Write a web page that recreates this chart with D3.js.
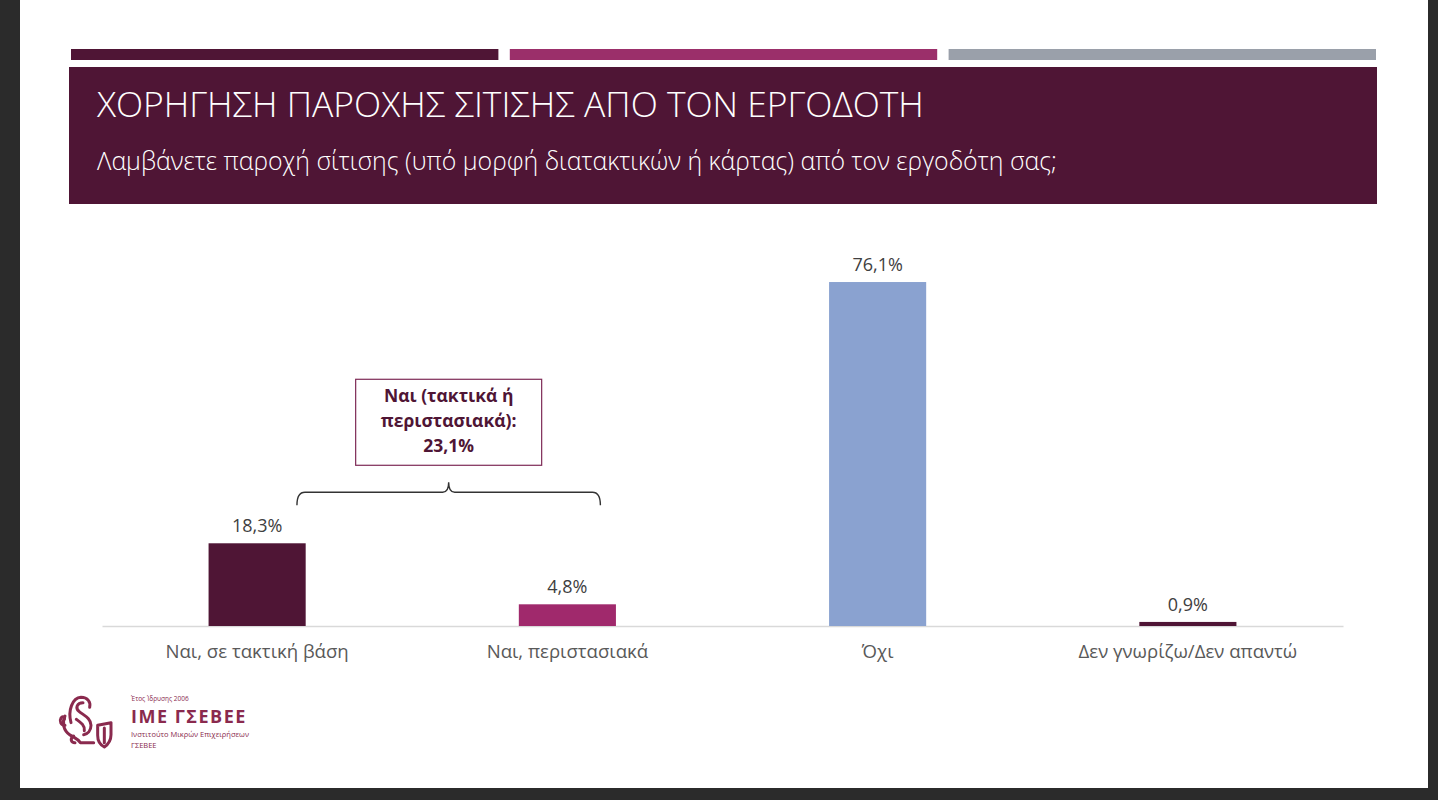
<!DOCTYPE html>
<html>
<head>
<meta charset="utf-8">
<script src="https://cdn.jsdelivr.net/npm/d3@7/dist/d3.min.js"></script>
<style>
  html, body { margin: 0; padding: 0; background: #2b2b2b; }
  svg { display: block; }
  text { font-family: "Open Sans", "Noto Sans", "DejaVu Sans", sans-serif; }
</style>
</head>
<body>
<svg id="chart" width="1438" height="800"></svg>
<script>
// ---------- data ----------
const categories = ["Ναι, σε τακτική βάση", "Ναι, περιστασιακά", "Όχι", "Δεν γνωρίζω/Δεν απαντώ"];
const values = [18.3, 4.8, 76.1, 0.9];
const barColors = ["#4f1535", "#a0296c", "#8aa2d0", "#4f1535"];
const groupIndices = [0, 1];
const groupTotal = 23.1;
const groupLabelLines = ["Ναι (τακτικά ή", "περιστασιακά):"];
const title = "ΧΟΡΗΓΗΣΗ ΠΑΡΟΧΗΣ ΣΙΤΙΣΗΣ ΑΠΟ ΤΟΝ ΕΡΓΟΔΟΤΗ";
const subtitle = "Λαμβάνετε παροχή σίτισης (υπό μορφή διατακτικών ή κάρτας) από τον εργοδότη σας;";
const accentColors = ["#4f1535", "#9b2f6a", "#9aa0aa"];

// ---------- setup ----------
const svg = d3.select("#chart");
const W = 1438, H = 800;
const loc = d3.formatLocale({ decimal: ",", thousands: ".", grouping: [3], currency: ["", "€"] });
const fmt = v => loc.format(".1f")(v) + "%";

// slide frame
svg.append("rect").attr("x", 0).attr("y", 0).attr("width", W).attr("height", H).attr("fill", "#2b2b2b");
svg.append("rect").attr("x", 20).attr("y", 0).attr("width", 1408).attr("height", 788).attr("fill", "#ffffff");

// accent bars
const accX = d3.scaleBand().domain(d3.range(accentColors.length)).range([71, 1376]).paddingInner(0.026);
svg.selectAll("rect.acc").data(accentColors).join("rect")
  .attr("class", "acc")
  .attr("x", (d, i) => accX(i)).attr("y", 49)
  .attr("width", accX.bandwidth()).attr("height", 11)
  .attr("fill", d => d);

// header box
svg.append("rect").attr("x", 69).attr("y", 67).attr("width", 1308).attr("height", 137).attr("fill", "#4f1535");

function fitText(sel, target) {
  const n = sel.node();
  const fs = parseFloat(sel.attr("font-size"));
  const w = n.getComputedTextLength();
  if (w > 0) sel.attr("font-size", (fs * target / w).toFixed(2));
}

const t1 = svg.append("text").attr("x", 97).attr("y", 117)
  .attr("fill", "#ffffff").attr("font-size", 32).attr("font-weight", 300)
  .text(title);
fitText(t1, 827);

const t2 = svg.append("text").attr("x", 97).attr("y", 170)
  .attr("fill", "#ffffff").attr("font-size", 22).attr("font-weight", 300)
  .text(subtitle);
fitText(t2, 960);

// ---------- chart ----------
const x = d3.scaleBand().domain(categories).range([102, 1343]).paddingInner(0.687).paddingOuter(0.3435);
const y = d3.scaleLinear().domain([0, 80]).range([626, 264.4]);

const axis = d3.axisBottom(x).tickSize(0).tickSizeOuter(0).tickPadding(0);
const ag = svg.append("g").attr("transform", `translate(0,${y(0)})`).call(axis);
ag.select(".domain").attr("stroke", "#d9d9d9").attr("stroke-width", 1.5);
ag.selectAll(".tick text")
  .attr("y", 32).attr("dy", 0)
  .attr("fill", "#595959").attr("font-size", 18.6)
  .attr("font-family", "'Open Sans', 'Noto Sans', sans-serif");

svg.append("g").selectAll("rect").data(values).join("rect")
  .attr("x", (d, i) => x(categories[i]))
  .attr("y", d => y(d))
  .attr("width", x.bandwidth())
  .attr("height", d => y(0) - y(d))
  .attr("fill", (d, i) => barColors[i]);

svg.append("g").selectAll("text").data(values).join("text")
  .attr("x", (d, i) => x(categories[i]) + x.bandwidth() / 2)
  .attr("y", d => y(d) - 11)
  .attr("text-anchor", "middle")
  .attr("fill", "#404040").attr("font-size", 18)
  .text(d => fmt(d));

// ---------- group annotation ----------
const gL = x(categories[groupIndices[0]]) + x.bandwidth() * 0.91;
const gR = x(categories[groupIndices[1]]) + x.bandwidth() * 0.84;
const gC = (gL + gR) / 2;
const braceY = y(values[groupIndices[0]]) - 51;
const brace = d3.path();
brace.moveTo(gL, braceY + 13);
brace.quadraticCurveTo(gL, braceY, gL + 8, braceY);
brace.lineTo(gC - 6, braceY);
brace.quadraticCurveTo(gC, braceY, gC, braceY - 10);
brace.quadraticCurveTo(gC, braceY, gC + 6, braceY);
brace.lineTo(gR - 8, braceY);
brace.quadraticCurveTo(gR, braceY, gR, braceY + 13);
svg.append("path").attr("d", brace.toString())
  .attr("fill", "none").attr("stroke", "#333333").attr("stroke-width", 1.4);

const boxW = 186, boxH = 86;
const boxBottom = braceY - 27;
svg.append("rect")
  .attr("x", gC - boxW / 2).attr("y", boxBottom - boxH)
  .attr("width", boxW).attr("height", boxH)
  .attr("fill", "#ffffff").attr("stroke", "#7e2a56").attr("stroke-width", 1.2);

const boxLines = groupLabelLines.concat([fmt(groupTotal)]);
svg.append("g").selectAll("text").data(boxLines).join("text")
  .attr("x", gC)
  .attr("y", (d, i) => boxBottom - boxH + 23 + i * 25)
  .attr("text-anchor", "middle")
  .attr("fill", "#4f1535").attr("font-size", 17.5).attr("font-weight", 700)
  .text(d => d);

// ---------- logo ----------
const lc = "#8a2a4e";
const icon = svg.append("g").attr("transform", "translate(55,692) scale(0.3333)")
  .attr("fill", "none").attr("stroke", lc).attr("stroke-width", 9)
  .attr("stroke-linecap", "round").attr("stroke-linejoin", "round");
icon.append("path").attr("d", "M48,92 C38,55 52,18 78,16 C98,16 108,30 104,46");
icon.append("path").attr("d", "M84,32 C66,32 60,48 72,58 C86,70 108,78 108,100 C108,116 98,126 86,128");
icon.append("path").attr("d", "M64,82 C78,92 90,100 88,116");
icon.append("path").attr("d", "M30,72 C20,92 26,116 44,128 C56,136 68,140 76,152 L116,152");
icon.append("path").attr("d", "M30,100 C18,100 12,88 18,78 C22,72 30,74 28,82");
icon.append("path").attr("d", "M60,152 C48,152 44,140 56,132");
icon.append("path").attr("d", "M128,100 L168,92 L168,128 C168,148 155,160 148,165 C138,160 128,148 128,130 Z");
icon.append("path").attr("d", "M148,108 L148,152");

const logo = svg.append("g").attr("transform", "translate(59,697)");
logo.append("text").attr("x", 72).attr("y", 4).attr("fill", lc).attr("font-size", 6.5).text("Έτος Ίδρυσης 2006");
logo.append("text").attr("x", 72).attr("y", 26).attr("fill", lc).attr("font-size", 18).attr("font-weight", 700)
  .attr("letter-spacing", 1.5).text("ΙΜΕ ΓΣΕΒΕΕ");
logo.append("text").attr("x", 72).attr("y", 40).attr("fill", lc).attr("font-size", 7.5).text("Ινστιτούτο Μικρών Επιχειρήσεων");
logo.append("text").attr("x", 72).attr("y", 51).attr("fill", lc).attr("font-size", 7.5).text("ΓΣΕΒΕΕ");
</script>
</body>
</html>
